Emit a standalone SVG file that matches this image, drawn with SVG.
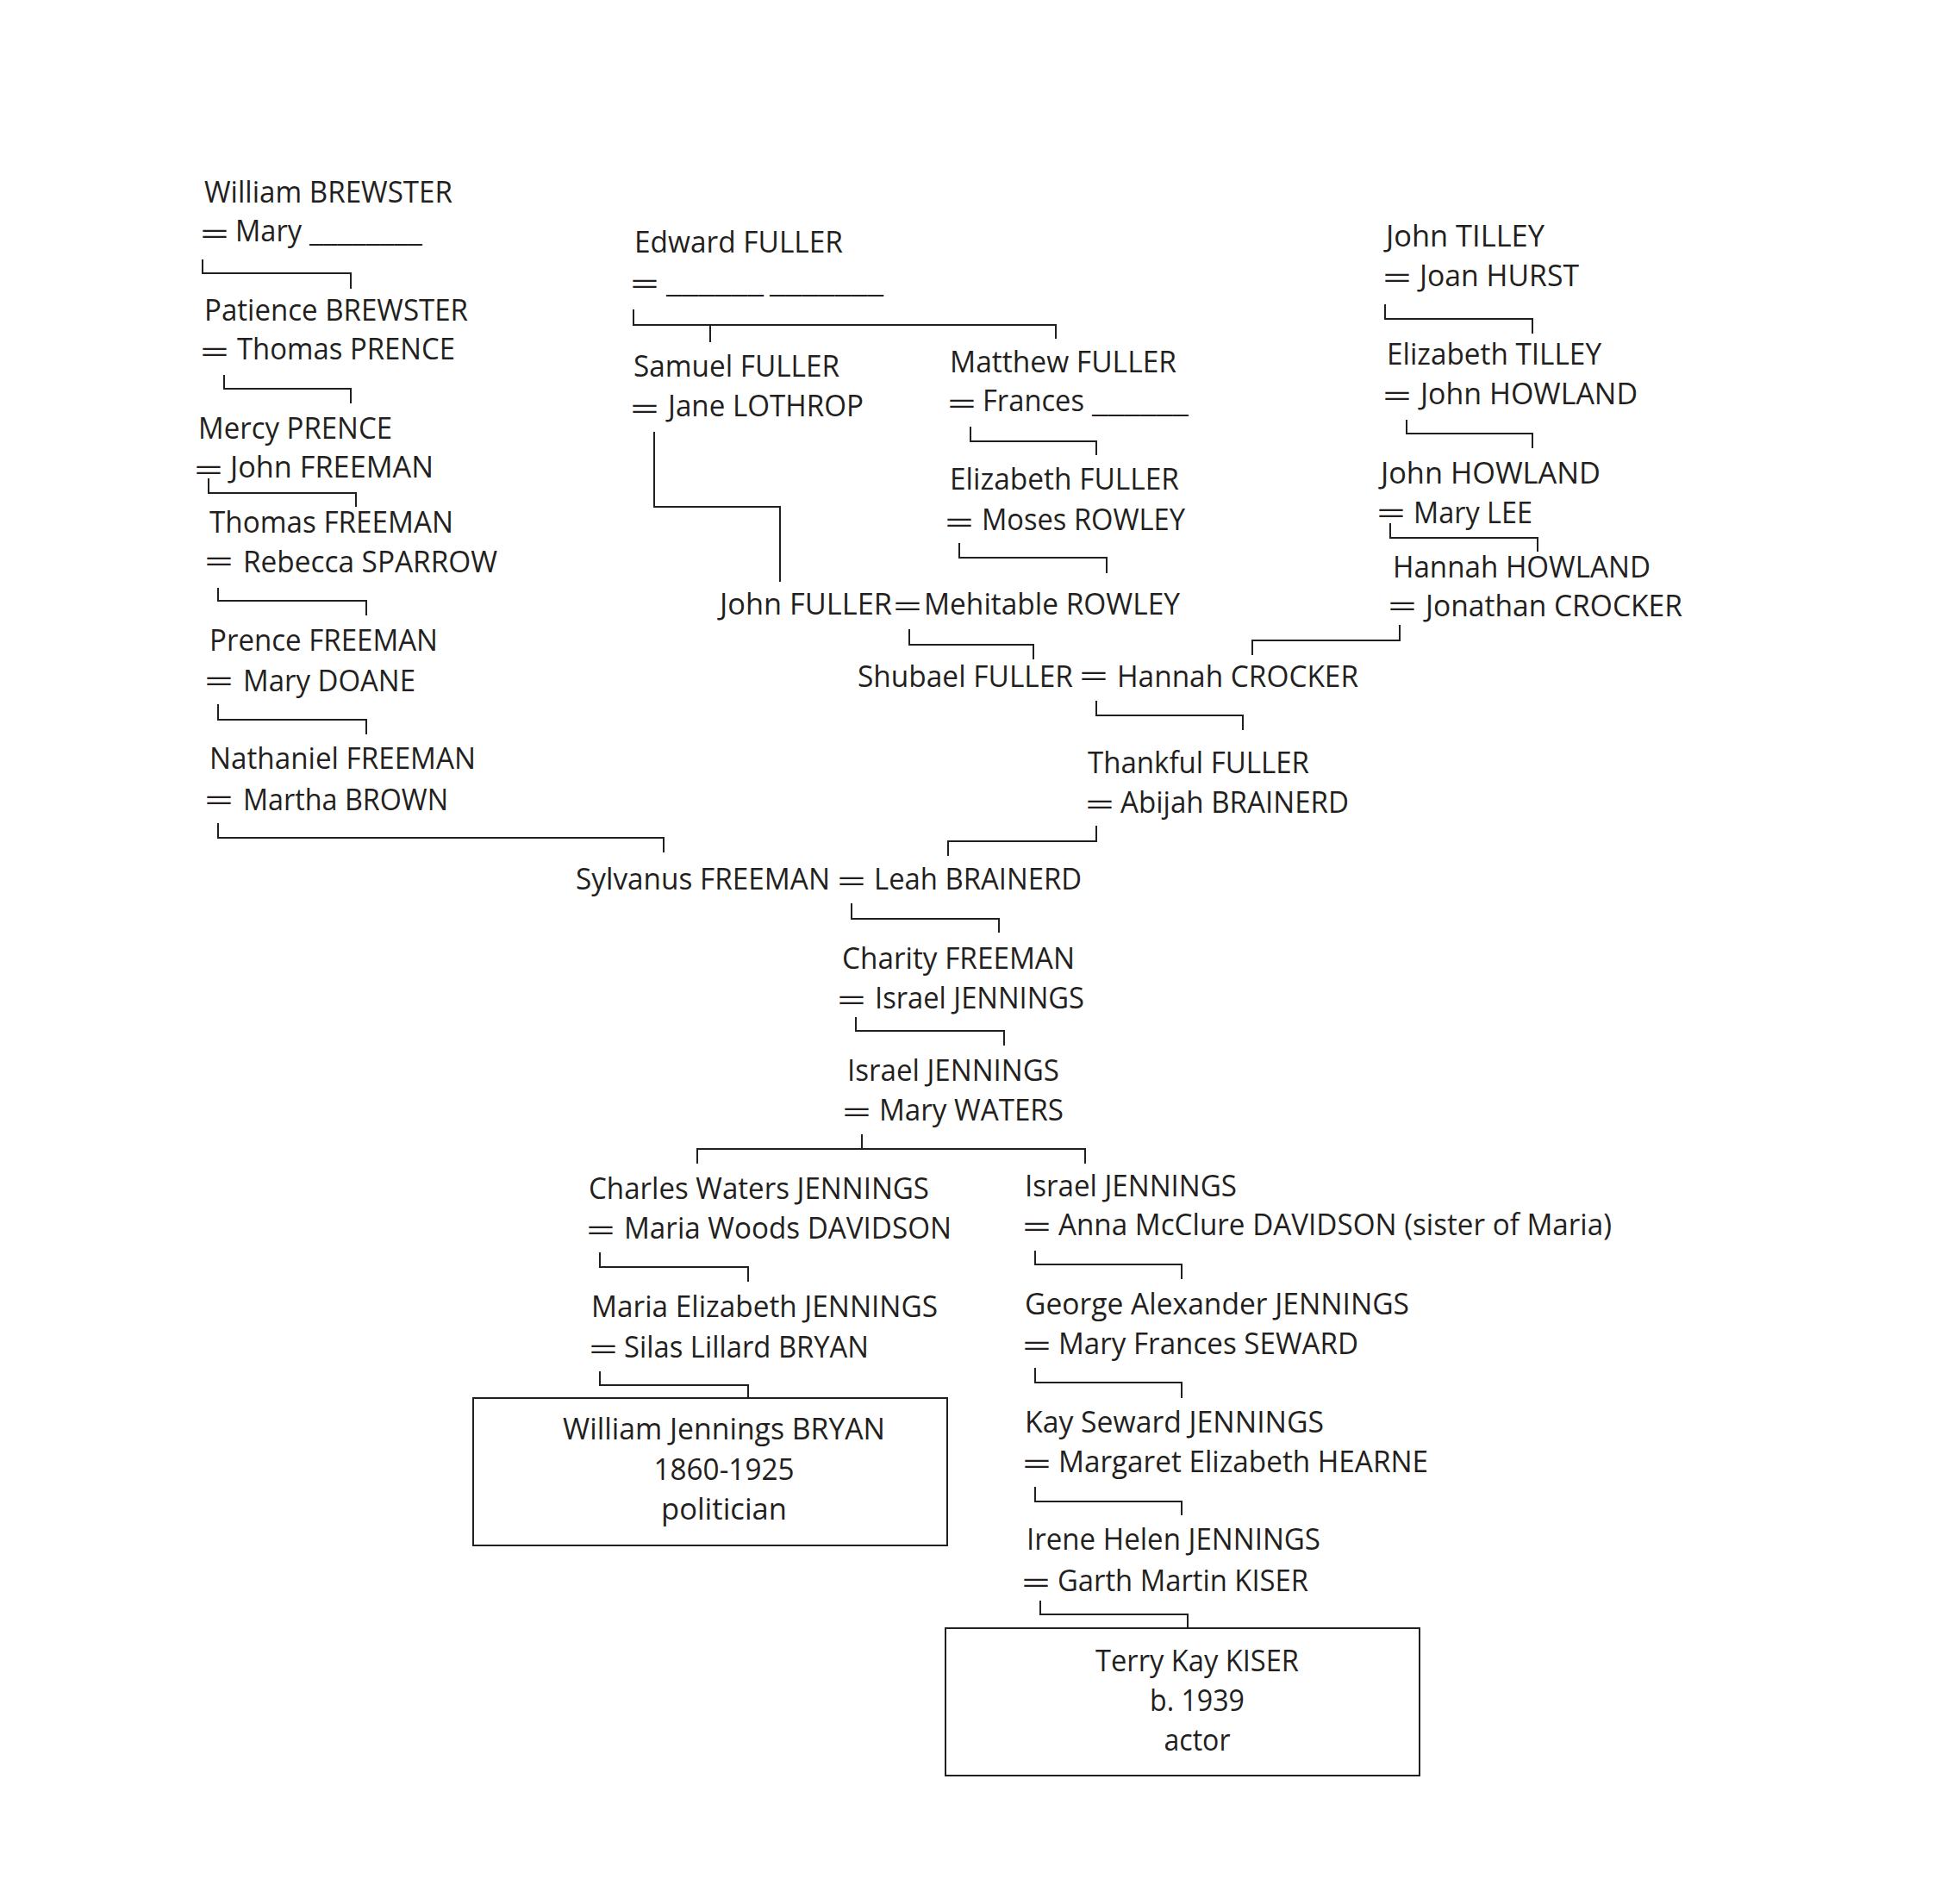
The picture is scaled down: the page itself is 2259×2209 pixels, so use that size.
<svg xmlns="http://www.w3.org/2000/svg" width="2259" height="2209" viewBox="0 0 2259 2209">
<style>
text{font-family:"Open Sans","Noto Sans","Liberation Sans",sans-serif;font-size:34px;fill:#231f20}
.m{text-anchor:middle}
.c path{fill:none;stroke:#231f20;stroke-width:2}
.box{fill:#fff;stroke:#231f20;stroke-width:2}
</style>
<rect width="2259" height="2209" fill="#fff"/>
<g class="c" id="connectors">
<path d="M235,301V317H407V335"/>
<path d="M260,435V451H407V468"/>
<path d="M242,555V572H413V588"/>
<path d="M253,682V697H425V714"/>
<path d="M253,817V835H425V852"/>
<path d="M253,955V972H770V989"/>
<path d="M735,359V377H1225V393M824,377V397"/>
<path d="M759,501V588H905V675"/>
<path d="M1126,495V512H1272V528"/>
<path d="M1113,630V647H1284V665"/>
<path d="M1055,730V748H1199V765"/>
<path d="M1624,725V743H1453V760"/>
<path d="M1272,813V830H1442V847"/>
<path d="M1272,958V976H1100V993"/>
<path d="M988,1048V1066H1159V1082"/>
<path d="M993,1180V1196H1165V1213"/>
<path d="M1000,1316V1333M809,1350V1333H1259V1350"/>
<path d="M696,1453V1470H868V1487"/>
<path d="M1201,1451V1467H1371V1484"/>
<path d="M696,1591V1607H868V1622"/>
<path d="M1201,1587V1604H1371V1622"/>
<path d="M1201,1725V1742H1371V1758"/>
<path d="M1207,1857V1873H1378V1889"/>
<path d="M1607,353V370H1778V387"/>
<path d="M1632,487V503H1778V520"/>
<path d="M1613,607V624H1784V640"/>
</g>
<g id="n-william-brewster">
<text x="237" y="235" textLength="288" lengthAdjust="spacingAndGlyphs">William BREWSTER</text>
<text x="232" y="284" textLength="34" lengthAdjust="spacingAndGlyphs">=</text>
<text x="273" y="280" textLength="77" lengthAdjust="spacingAndGlyphs">Mary</text>
<text x="359" y="280" textLength="131" lengthAdjust="spacingAndGlyphs">________</text>
</g>
<g id="n-patience-brewster">
<text x="237" y="372" textLength="306" lengthAdjust="spacingAndGlyphs">Patience BREWSTER</text>
<text x="232" y="421" textLength="34" lengthAdjust="spacingAndGlyphs">=</text>
<text x="275" y="417" textLength="253" lengthAdjust="spacingAndGlyphs">Thomas PRENCE</text>
</g>
<g id="n-mercy-prence">
<text x="230" y="509" textLength="225" lengthAdjust="spacingAndGlyphs">Mercy PRENCE</text>
<text x="225" y="558" textLength="34" lengthAdjust="spacingAndGlyphs">=</text>
<text x="267" y="554" textLength="236" lengthAdjust="spacingAndGlyphs">John FREEMAN</text>
</g>
<g id="n-thomas-freeman">
<text x="243" y="618" textLength="283" lengthAdjust="spacingAndGlyphs">Thomas FREEMAN</text>
<text x="237" y="664" textLength="34" lengthAdjust="spacingAndGlyphs">=</text>
<text x="282" y="664" textLength="295" lengthAdjust="spacingAndGlyphs">Rebecca SPARROW</text>
</g>
<g id="n-prence-freeman">
<text x="243" y="755" textLength="265" lengthAdjust="spacingAndGlyphs">Prence FREEMAN</text>
<text x="237" y="803" textLength="34" lengthAdjust="spacingAndGlyphs">=</text>
<text x="282" y="802" textLength="200" lengthAdjust="spacingAndGlyphs">Mary DOANE</text>
</g>
<g id="n-nathaniel-freeman">
<text x="243" y="892" textLength="309" lengthAdjust="spacingAndGlyphs">Nathaniel FREEMAN</text>
<text x="237" y="941" textLength="34" lengthAdjust="spacingAndGlyphs">=</text>
<text x="282" y="940" textLength="238" lengthAdjust="spacingAndGlyphs">Martha BROWN</text>
</g>
<g id="n-edward-fuller">
<text x="736" y="293" textLength="242" lengthAdjust="spacingAndGlyphs">Edward FULLER</text>
<text x="731" y="342" textLength="34" lengthAdjust="spacingAndGlyphs">=</text>
<text x="773" y="339" textLength="113" lengthAdjust="spacingAndGlyphs">______</text>
<text x="893" y="339" textLength="132" lengthAdjust="spacingAndGlyphs">_______</text>
</g>
<g id="n-samuel-fuller">
<text x="735" y="437" textLength="239" lengthAdjust="spacingAndGlyphs">Samuel FULLER</text>
<text x="731" y="487" textLength="34" lengthAdjust="spacingAndGlyphs">=</text>
<text x="775" y="483" textLength="227" lengthAdjust="spacingAndGlyphs">Jane LOTHROP</text>
</g>
<g id="n-matthew-fuller">
<text x="1102" y="432" textLength="263" lengthAdjust="spacingAndGlyphs">Matthew FULLER</text>
<text x="1099" y="481" textLength="34" lengthAdjust="spacingAndGlyphs">=</text>
<text x="1140" y="477" textLength="118" lengthAdjust="spacingAndGlyphs">Frances</text>
<text x="1267" y="478" textLength="112" lengthAdjust="spacingAndGlyphs">______</text>
</g>
<g id="n-elizabeth-fuller">
<text x="1102" y="568" textLength="266" lengthAdjust="spacingAndGlyphs">Elizabeth FULLER</text>
<text x="1096" y="619" textLength="34" lengthAdjust="spacingAndGlyphs">=</text>
<text x="1139" y="615" textLength="236" lengthAdjust="spacingAndGlyphs">Moses ROWLEY</text>
</g>
<g id="n-john-fuller">
<text x="835" y="713" textLength="200" lengthAdjust="spacingAndGlyphs">John FULLER</text>
<text x="1036" y="716" textLength="34" lengthAdjust="spacingAndGlyphs">=</text>
<text x="1072" y="713" textLength="297" lengthAdjust="spacingAndGlyphs">Mehitable ROWLEY</text>
</g>
<g id="n-shubael-fuller">
<text x="995" y="797" textLength="250" lengthAdjust="spacingAndGlyphs">Shubael FULLER</text>
<text x="1252" y="797" textLength="34" lengthAdjust="spacingAndGlyphs">=</text>
<text x="1296" y="797" textLength="280" lengthAdjust="spacingAndGlyphs">Hannah CROCKER</text>
</g>
<g id="n-thankful-fuller">
<text x="1262" y="897" textLength="257" lengthAdjust="spacingAndGlyphs">Thankful FULLER</text>
<text x="1259" y="946" textLength="34" lengthAdjust="spacingAndGlyphs">=</text>
<text x="1300" y="943" textLength="265" lengthAdjust="spacingAndGlyphs">Abijah BRAINERD</text>
</g>
<g id="n-sylvanus-freeman">
<text x="668" y="1032" textLength="295" lengthAdjust="spacingAndGlyphs">Sylvanus FREEMAN</text>
<text x="971" y="1035" textLength="34" lengthAdjust="spacingAndGlyphs">=</text>
<text x="1014" y="1032" textLength="241" lengthAdjust="spacingAndGlyphs">Leah BRAINERD</text>
</g>
<g id="n-charity-freeman">
<text x="977" y="1124" textLength="270" lengthAdjust="spacingAndGlyphs">Charity FREEMAN</text>
<text x="971" y="1173" textLength="34" lengthAdjust="spacingAndGlyphs">=</text>
<text x="1015" y="1170" textLength="243" lengthAdjust="spacingAndGlyphs">Israel JENNINGS</text>
</g>
<g id="n-israel-jennings-1">
<text x="983" y="1254" textLength="246" lengthAdjust="spacingAndGlyphs">Israel JENNINGS</text>
<text x="977" y="1303" textLength="34" lengthAdjust="spacingAndGlyphs">=</text>
<text x="1020" y="1300" textLength="214" lengthAdjust="spacingAndGlyphs">Mary WATERS</text>
</g>
<g id="n-charles-waters-jennings">
<text x="683" y="1391" textLength="395" lengthAdjust="spacingAndGlyphs">Charles Waters JENNINGS</text>
<text x="680" y="1440" textLength="34" lengthAdjust="spacingAndGlyphs">=</text>
<text x="724" y="1437" textLength="380" lengthAdjust="spacingAndGlyphs">Maria Woods DAVIDSON</text>
</g>
<g id="n-maria-elizabeth-jennings">
<text x="686" y="1528" textLength="402" lengthAdjust="spacingAndGlyphs">Maria Elizabeth JENNINGS</text>
<text x="683" y="1578" textLength="34" lengthAdjust="spacingAndGlyphs">=</text>
<text x="724" y="1575" textLength="284" lengthAdjust="spacingAndGlyphs">Silas Lillard BRYAN</text>
</g>
<g id="n-william-jennings-bryan">
<rect class="box" x="549" y="1622" width="550" height="171"/>
<text class="m" x="840" y="1670" textLength="374" lengthAdjust="spacingAndGlyphs">William Jennings BRYAN</text>
<text class="m" x="840" y="1717" textLength="163" lengthAdjust="spacingAndGlyphs">1860-1925</text>
<text class="m" x="840" y="1763" textLength="146" lengthAdjust="spacingAndGlyphs">politician</text>
</g>
<g id="n-israel-jennings-2">
<text x="1189" y="1388" textLength="246" lengthAdjust="spacingAndGlyphs">Israel JENNINGS</text>
<text x="1186" y="1436" textLength="34" lengthAdjust="spacingAndGlyphs">=</text>
<text x="1228" y="1433" textLength="642" lengthAdjust="spacingAndGlyphs">Anna McClure DAVIDSON (sister of Maria)</text>
</g>
<g id="n-george-alexander-jennings">
<text x="1189" y="1525" textLength="446" lengthAdjust="spacingAndGlyphs">George Alexander JENNINGS</text>
<text x="1186" y="1574" textLength="34" lengthAdjust="spacingAndGlyphs">=</text>
<text x="1228" y="1571" textLength="348" lengthAdjust="spacingAndGlyphs">Mary Frances SEWARD</text>
</g>
<g id="n-kay-seward-jennings">
<text x="1189" y="1662" textLength="347" lengthAdjust="spacingAndGlyphs">Kay Seward JENNINGS</text>
<text x="1186" y="1711" textLength="34" lengthAdjust="spacingAndGlyphs">=</text>
<text x="1228" y="1708" textLength="429" lengthAdjust="spacingAndGlyphs">Margaret Elizabeth HEARNE</text>
</g>
<g id="n-irene-helen-jennings">
<text x="1191" y="1798" textLength="341" lengthAdjust="spacingAndGlyphs">Irene Helen JENNINGS</text>
<text x="1185" y="1849" textLength="34" lengthAdjust="spacingAndGlyphs">=</text>
<text x="1227" y="1846" textLength="291" lengthAdjust="spacingAndGlyphs">Garth Martin KISER</text>
</g>
<g id="n-terry-kay-kiser">
<rect class="box" x="1097" y="1889" width="550" height="171"/>
<text class="m" x="1389" y="1939" textLength="236" lengthAdjust="spacingAndGlyphs">Terry Kay KISER</text>
<text class="m" x="1389" y="1985" textLength="110" lengthAdjust="spacingAndGlyphs">b. 1939</text>
<text class="m" x="1389" y="2031" textLength="77" lengthAdjust="spacingAndGlyphs">actor</text>
</g>
<g id="n-john-tilley">
<text x="1608" y="286" textLength="184" lengthAdjust="spacingAndGlyphs">John TILLEY</text>
<text x="1604" y="335" textLength="34" lengthAdjust="spacingAndGlyphs">=</text>
<text x="1647" y="332" textLength="185" lengthAdjust="spacingAndGlyphs">Joan HURST</text>
</g>
<g id="n-elizabeth-tilley">
<text x="1609" y="423" textLength="249" lengthAdjust="spacingAndGlyphs">Elizabeth TILLEY</text>
<text x="1604" y="472" textLength="34" lengthAdjust="spacingAndGlyphs">=</text>
<text x="1648" y="469" textLength="252" lengthAdjust="spacingAndGlyphs">John HOWLAND</text>
</g>
<g id="n-john-howland">
<text x="1602" y="561" textLength="255" lengthAdjust="spacingAndGlyphs">John HOWLAND</text>
<text x="1597" y="608" textLength="34" lengthAdjust="spacingAndGlyphs">=</text>
<text x="1640" y="607" textLength="138" lengthAdjust="spacingAndGlyphs">Mary LEE</text>
</g>
<g id="n-hannah-howland">
<text x="1616" y="670" textLength="299" lengthAdjust="spacingAndGlyphs">Hannah HOWLAND</text>
<text x="1610" y="716" textLength="34" lengthAdjust="spacingAndGlyphs">=</text>
<text x="1654" y="715" textLength="298" lengthAdjust="spacingAndGlyphs">Jonathan CROCKER</text>
</g>
</svg>
